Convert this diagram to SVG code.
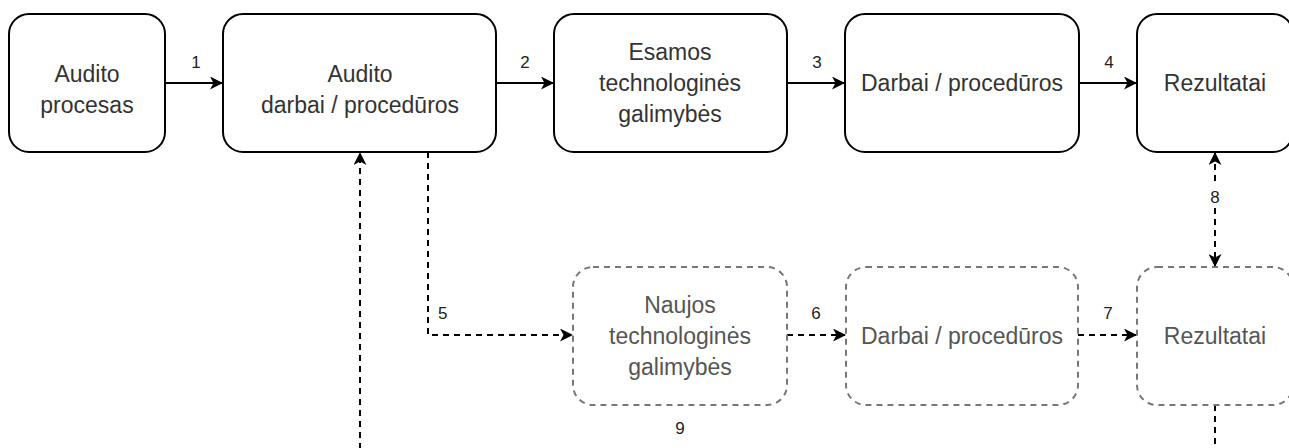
<svg xmlns="http://www.w3.org/2000/svg" width="1289" height="448" viewBox="0 0 1289 448">
<defs>
<marker id="ah" viewBox="0 0 13 13" refX="12" refY="6.5" markerWidth="13" markerHeight="13" markerUnits="userSpaceOnUse" orient="auto-start-reverse">
<path d="M0,0 L13,6.5 L0,13 L3.5,6.5 Z" fill="#000"/>
</marker>
<style>
.n{fill:#fff;stroke:#000;stroke-width:2}
.d{fill:#fff;stroke:#777;stroke-width:2;stroke-dasharray:6 5}
.t{font-family:"Liberation Sans",Arial,sans-serif;font-size:23px;fill:#333;text-anchor:middle}
.dt{fill:#555}
.c{fill:none;stroke:#000;stroke-width:2}
.cd{fill:none;stroke:#000;stroke-width:2;stroke-dasharray:6 5}
.l{font-family:"Liberation Sans",Arial,sans-serif;font-size:17px;fill:#222;text-anchor:middle}
</style>
</defs>
<rect width="1289" height="448" fill="#fff"/>
<g id="connectors">
<path class="c" d="M165,83 H222" marker-end="url(#ah)"/>
<path class="c" d="M496,83 H553" marker-end="url(#ah)"/>
<path class="c" d="M787,83 H844" marker-end="url(#ah)"/>
<path class="c" d="M1079,83 H1136" marker-end="url(#ah)"/>
<path class="cd" d="M428,152 V335 H572" marker-end="url(#ah)"/>
<path class="cd" d="M787,335 H845" marker-end="url(#ah)"/>
<path class="cd" d="M1078,335 H1136" marker-end="url(#ah)"/>
<path class="cd" d="M1215,153 V266" marker-start="url(#ah)" marker-end="url(#ah)"/>
<path class="cd" d="M1215,405 V460"/>
<path class="cd" d="M360,460 V153" marker-end="url(#ah)"/>
<text class="l" x="196" y="68">1</text>
<text class="l" x="525" y="68">2</text>
<text class="l" x="817" y="68">3</text>
<text class="l" x="1109" y="68">4</text>
<text class="l" x="438" y="319" style="text-anchor:start">5</text>
<text class="l" x="816" y="319">6</text>
<text class="l" x="1108" y="319">7</text>
<rect x="1207" y="186" width="16" height="20" fill="#fff"/>
<text class="l" x="1215" y="203">8</text>
<text class="l" x="680" y="434">9</text>
</g>
<g id="n1"><rect class="n" x="9" y="14" width="156" height="138" rx="20"/>
<text class="t" x="87" y="82">Audito</text><text class="t" x="87" y="113">procesas</text></g>
<g id="n2"><rect class="n" x="223" y="14" width="273" height="138" rx="20"/>
<text class="t" x="360" y="82">Audito</text><text class="t" x="360" y="113">darbai / procedūros</text></g>
<g id="n3"><rect class="n" x="554" y="14" width="233" height="138" rx="20"/>
<text class="t" x="670" y="60">Esamos</text><text class="t" x="670" y="91">technologinės</text><text class="t" x="670" y="122">galimybės</text></g>
<g id="n4"><rect class="n" x="845" y="14" width="234" height="138" rx="20"/>
<text class="t" x="962" y="91">Darbai / procedūros</text></g>
<g id="n5"><rect class="n" x="1137" y="14" width="156" height="138" rx="20"/>
<text class="t" x="1215" y="91">Rezultatai</text></g>
<g id="n6"><rect class="d" x="573" y="267" width="214" height="138" rx="20"/>
<text class="t dt" x="680" y="313">Naujos</text><text class="t dt" x="680" y="344">technologinės</text><text class="t dt" x="680" y="375">galimybės</text></g>
<g id="n7"><rect class="d" x="846" y="267" width="232" height="138" rx="20"/>
<text class="t dt" x="962" y="344">Darbai / procedūros</text></g>
<g id="n8"><rect class="d" x="1137" y="267" width="156" height="138" rx="20"/>
<text class="t dt" x="1215" y="344">Rezultatai</text></g>
</svg>
